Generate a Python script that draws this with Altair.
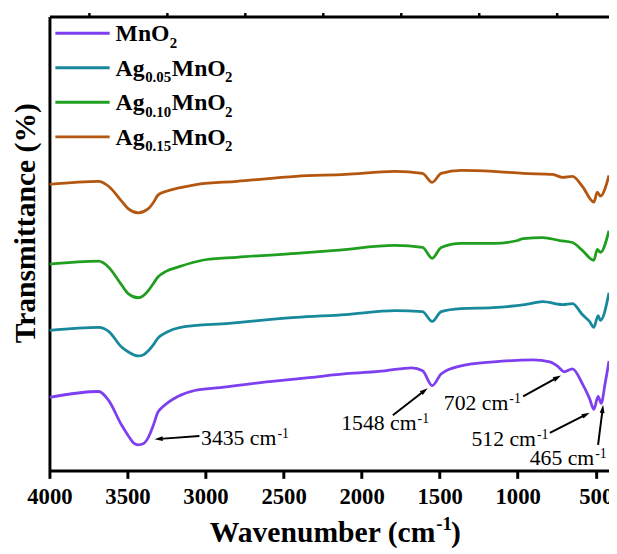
import altair as alt
import pandas as pd

# ---------------- data ----------------
series_names = ["MnO2", "Ag0.05MnO2", "Ag0.10MnO2", "Ag0.15MnO2"]
series_colors = ["#7d3ff0", "#18889c", "#1f9e1f", "#b3560f"]

mno2_wn = [4000, 3684, 3621, 3538, 3494, 3462, 3431, 3400, 3368, 3336, 3305, 3270, 3230, 3178,
           3070, 2906, 2590, 2337, 2100, 1850, 1679, 1609, 1548, 1489, 1363, 1154, 901, 794, 740,
           702, 649, 586, 540, 512, 485, 465, 440, 415]
mno2_t = [14.8, 16.0, 14.2, 9.2, 7.0, 5.6, 5.2, 5.4, 6.6, 9.0, 11.8, 13.0, 14.0, 15.0,
          16.2, 16.8, 18.0, 18.8, 19.6, 20.2, 20.8, 20.2, 17.2, 19.6, 21.2, 22.0, 22.4, 22.0, 21.0,
          20.0, 20.6, 17.6, 14.6, 12.4, 15.0, 13.6, 17.6, 22.2]

ag05_wn = [4000, 3684, 3621, 3538, 3494, 3431, 3400, 3368, 3336, 3305, 3250, 3160, 2850, 2419,
           2103, 1787, 1610, 1548, 1490, 1363, 1160, 955, 839, 712, 649, 586, 540, 512, 485, 470,
           415]
ag05_t = [28.4, 29.0, 28.2, 25.0, 24.0, 23.2, 23.4, 24.2, 25.4, 26.8, 28.0, 29.0, 29.8, 31.0,
          31.6, 32.4, 32.2, 30.2, 32.2, 32.8, 33.0, 33.6, 34.2, 33.6, 33.8, 31.6, 30.2, 29.0,
          31.4, 30.4, 36.0]

ag10_wn = [4000, 3684, 3621, 3538, 3494, 3431, 3400, 3368, 3336, 3305, 3250, 3178, 3020, 2799,
           2419, 2166, 1787, 1610, 1548, 1490, 1363, 1155, 1000, 965, 839, 731, 649, 586, 512,
           490, 470, 415]
ag10_t = [41.8, 42.4, 41.2, 37.6, 35.8, 35.0, 35.4, 36.4, 37.8, 39.2, 40.4, 41.2, 42.6, 43.2,
          44.0, 44.6, 45.6, 45.2, 43.0, 45.2, 46.0, 46.0, 46.6, 47.0, 47.2, 46.6, 46.2, 44.6, 42.6,
          44.8, 44.2, 48.6]

ag15_wn = [4000, 3684, 3621, 3538, 3494, 3431, 3368, 3336, 3305, 3250, 3178, 3052, 2799, 2419,
           2103, 1787, 1610, 1548, 1490, 1363, 1155, 965, 776, 712, 649, 586, 512, 490, 470, 415]
ag15_t = [58.0, 58.6, 57.6, 54.6, 53.0, 52.2, 53.0, 54.2, 55.8, 56.6, 57.2, 58.0, 58.6, 59.6,
          60.0, 60.6, 60.2, 58.4, 60.2, 60.8, 60.6, 60.2, 60.0, 59.4, 59.6, 57.6, 54.4, 56.4,
          55.6, 59.8]

major_ticks = [4000, 3500, 3000, 2500, 2000, 1500, 1000, 500]
minor_ticks = [3750, 3250, 2750, 2250, 1750, 1250, 750]

ann_labels = ["3435 cm", "1548 cm", "702 cm", "512 cm", "465 cm"]
ann_text_wn = [2546, 1648, 1060, 883, 510]
ann_text_t = [5.2, 8.2, 12.2, 5.0, 1.2]
arrow_tail_wn = [3039, 1800, 965, 794, 485]
arrow_tail_t = [7.0, 11.2, 15.0, 7.6, 5.2]
arrow_head_wn = [3292, 1604, 753, 570, 457]
arrow_head_t = [6.4, 16.0, 18.7, 11.2, 12.2]
arrow_angle = [266, 52, 61, 63, 7]

# ---------------- layout ----------------
W, H = 567, 460
X_DOMAIN = [4000, 415]
Y_DOMAIN = [0, 92]
FONT = "Liberation Serif"
px_per_wn = W / (X_DOMAIN[0] - X_DOMAIN[1])


def px_to_wn(px):
    return X_DOMAIN[0] - px / px_per_wn


frames = []
for name, wn, t in zip(series_names, [mno2_wn, ag05_wn, ag10_wn, ag15_wn],
                       [mno2_t, ag05_t, ag10_t, ag15_t]):
    frames.append(pd.DataFrame({"wn": wn, "T": t, "series": name}))
spectra = pd.concat(frames, ignore_index=True)

ann = pd.DataFrame({
    "label": ann_labels, "sup": ["-1"] * len(ann_labels),
    "text_wn": ann_text_wn, "text_t": ann_text_t,
    "tail_wn": arrow_tail_wn, "tail_t": arrow_tail_t,
    "head_wn": arrow_head_wn, "head_t": arrow_head_t,
    "angle": arrow_angle,
})

# legend (manual, with subscripts)
leg_lines, leg_text = [], []
for i, name in enumerate(series_names):
    base_t = 87.0 - 7.0 * i
    leg_lines.append({"series": name, "x1": px_to_wn(6), "x2": px_to_wn(61), "T": base_t + 1.6})
    if name.startswith("Ag"):
        pieces = [("Ag", 0, False), (name[2:6], 30, True), ("MnO", 57, False), ("2", 111, True)]
    else:
        pieces = [("MnO", 0, False), ("2", 55, True)]
    for txt, dx, sub in pieces:
        leg_text.append({"txt": txt, "wn": px_to_wn(67 + dx),
                         "T": base_t - (1.3 if sub else 0.0), "sub": sub})
leg_lines = pd.DataFrame(leg_lines)
leg_text = pd.DataFrame(leg_text)

xs = alt.Scale(domain=X_DOMAIN, nice=False, zero=False)
ys = alt.Scale(domain=Y_DOMAIN, nice=False, zero=False)
cs = alt.Scale(domain=series_names, range=series_colors)

lines = alt.Chart(spectra).mark_line(strokeWidth=2.8, interpolate="monotone", clip=True).encode(
    x=alt.X("wn:Q", scale=xs, axis=alt.Axis(
        values=major_ticks, format="d", title=None, grid=False,
        domainColor="black", domainWidth=3, tickColor="black", tickWidth=3, tickSize=8,
        labelFont=FONT, labelFontSize=23, labelFontWeight="bold", labelColor="black",
        labelPadding=8, labelFlush=False)),
    y=alt.Y("T:Q", scale=ys, axis=alt.Axis(
        title="Transmittance (%)", labels=False, ticks=False, grid=False,
        domainColor="black", domainWidth=3,
        titleFont=FONT, titleFontSize=30, titleFontWeight="bold", titleColor="black",
        titleAngle=270, titleX=-15, titleY=209, titleAlign="center",
        titleBaseline="alphabetic")),
    color=alt.Color("series:N", scale=cs, legend=None),
)

arrows = alt.Chart(ann).mark_rule(strokeWidth=2, color="black").encode(
    x=alt.X("tail_wn:Q", scale=xs, axis=alt.Axis(
        values=minor_ticks, labels=False, domain=False, title=None, grid=False,
        tickSize=4, tickWidth=2.5, tickColor="black")),
    x2="head_wn:Q",
    y=alt.Y("tail_t:Q", scale=ys, axis=None),
    y2="head_t:Q",
)

heads = alt.Chart(ann).mark_point(
    shape="M0,-1L0.45,0.5L-0.45,0.5Z", size=121, filled=True, color="black", opacity=1
).encode(
    x=alt.X("head_wn:Q", scale=xs, axis=alt.Axis(
        orient="top", labels=False, ticks=False, title=None, grid=False,
        domainColor="black", domainWidth=3)),
    y=alt.Y("head_t:Q", scale=ys, axis=None),
    angle=alt.Angle("angle:Q", scale=None),
)

ann_main = alt.Chart(ann).mark_text(
    font=FONT, fontSize=22, color="black", align="right", baseline="alphabetic"
).encode(
    x=alt.X("text_wn:Q", scale=xs, axis=None),
    y=alt.Y("text_t:Q", scale=ys, axis=None),
    text="label:N",
)
ann_sup = alt.Chart(ann).mark_text(
    font=FONT, fontSize=14, color="black", align="left", baseline="alphabetic", dx=1, dy=-7
).encode(
    x=alt.X("text_wn:Q", scale=xs, axis=None),
    y=alt.Y("text_t:Q", scale=ys, axis=None),
    text="sup:N",
)

leg_rule = alt.Chart(leg_lines).mark_rule(strokeWidth=3).encode(
    x=alt.X("x1:Q", scale=xs, axis=None),
    x2="x2:Q",
    y=alt.Y("T:Q", scale=ys, axis=None),
    color=alt.Color("series:N", scale=cs, legend=None),
)
leg_main = alt.Chart(leg_text).transform_filter("!datum.sub").mark_text(
    font=FONT, fontSize=24, fontWeight="bold", color="black", align="left", baseline="alphabetic"
).encode(
    x=alt.X("wn:Q", scale=xs, axis=None),
    y=alt.Y("T:Q", scale=ys, axis=None),
    text="txt:N",
)
leg_sub = alt.Chart(leg_text).transform_filter("datum.sub").mark_text(
    font=FONT, fontSize=15, fontWeight="bold", color="black", align="left", baseline="alphabetic"
).encode(
    x=alt.X("wn:Q", scale=xs, axis=None),
    y=alt.Y("T:Q", scale=ys, axis=None),
    text="txt:N",
)

one = pd.DataFrame({"k": [0]})
xt_main = alt.Chart(one).mark_text(
    font=FONT, fontSize=30, fontWeight="bold", color="black", align="right", baseline="alphabetic"
).encode(x=alt.value(391), y=alt.value(532), text=alt.value("Wavenumber (cm"))
xt_sup = alt.Chart(one).mark_text(
    font=FONT, fontSize=19, fontWeight="bold", color="black", align="left", baseline="alphabetic"
).encode(x=alt.value(392), y=alt.value(520), text=alt.value("-1"))
xt_close = alt.Chart(one).mark_text(
    font=FONT, fontSize=30, fontWeight="bold", color="black", align="left", baseline="alphabetic"
).encode(x=alt.value(407), y=alt.value(532), text=alt.value(")"))

chart = alt.layer(
    lines, arrows, heads, ann_main, ann_sup, leg_rule, leg_main, leg_sub,
    xt_main, xt_sup, xt_close
).resolve_axis(x="independent", y="independent").properties(
    width=W, height=H,
    autosize=alt.AutoSizeParams(type="none"),
    padding={"left": 42, "top": 5, "right": 0, "bottom": 77},
).configure_view(stroke=None).configure_axis(grid=False)

chart.save("out.html", embed_options={"renderer": "svg", "actions": False})
